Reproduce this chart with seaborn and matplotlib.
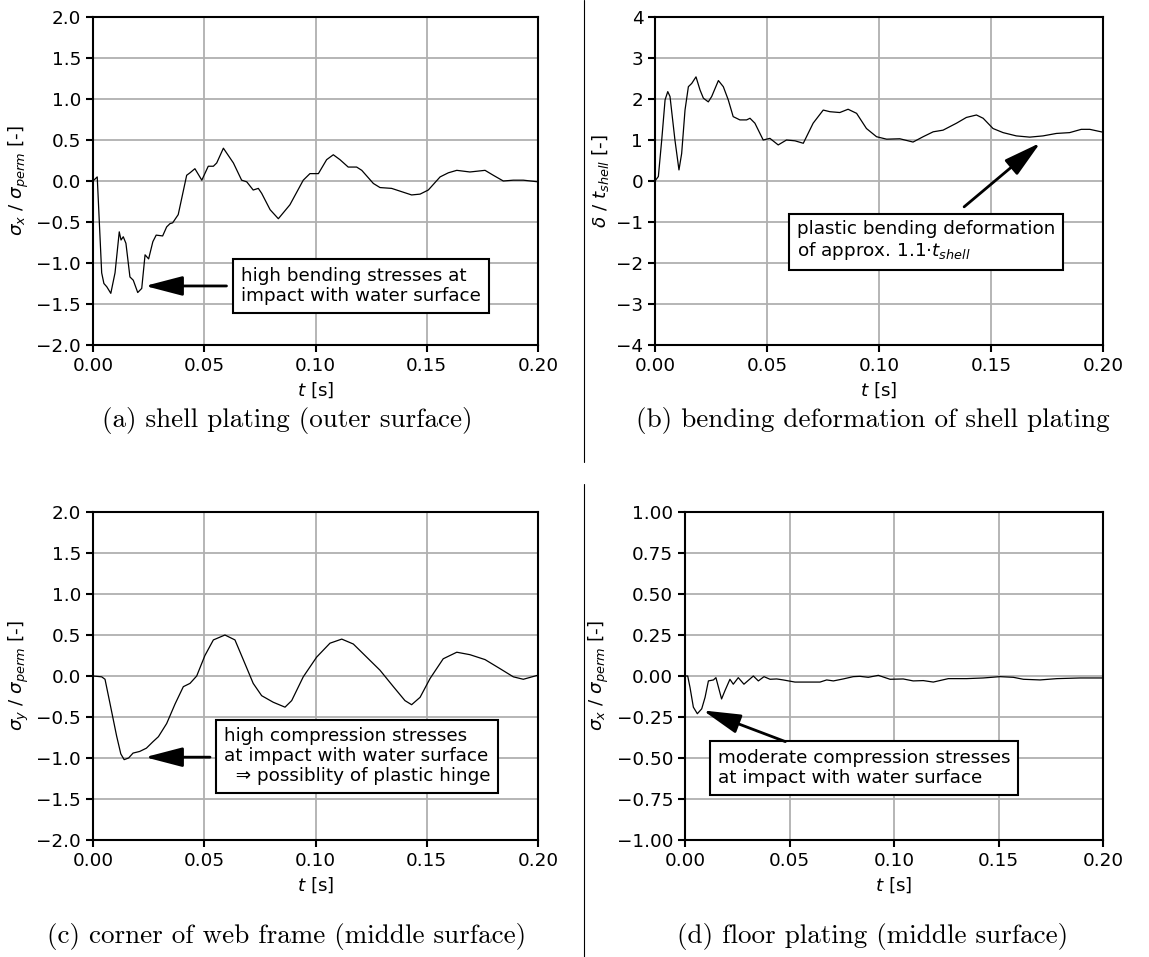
import matplotlib
matplotlib.use("Agg")
import matplotlib.pyplot as plt
from matplotlib.lines import Line2D
import pandas as pd
import seaborn as sns

# (a) shell plating, outer surface: sigma_x / sigma_perm
t_a = [0.0, 0.0019, 0.0039, 0.0049, 0.0062, 0.0080, 0.0099, 0.0118, 0.0126, 0.0136,
       0.0148, 0.0166, 0.0181, 0.0201, 0.0219, 0.0234, 0.0250, 0.0269, 0.0284, 0.0313,
       0.0331, 0.0346, 0.0358, 0.0383, 0.0421, 0.0436, 0.0458, 0.0489, 0.0518, 0.0541,
       0.0556, 0.0586, 0.0631, 0.0668, 0.0691, 0.0720, 0.0743, 0.0758, 0.0796, 0.0833,
       0.0885, 0.0945, 0.0975, 0.1013, 0.1050, 0.1080, 0.1110, 0.1147, 0.1185, 0.1208,
       0.1260, 0.1290, 0.1342, 0.1387, 0.1432, 0.1470, 0.1507, 0.1560, 0.1597, 0.1635,
       0.1694, 0.1762, 0.1799, 0.1844, 0.1889, 0.1934, 0.2000]
s_a = [0.00, 0.05, -1.12, -1.25, -1.29, -1.37, -1.12, -0.62, -0.72, -0.68,
       -0.76, -1.17, -1.21, -1.36, -1.31, -0.90, -0.95, -0.74, -0.66, -0.67,
       -0.56, -0.52, -0.51, -0.41, 0.07, 0.10, 0.15, 0.01, 0.18, 0.18,
       0.22, 0.40, 0.22, 0.01, -0.01, -0.11, -0.09, -0.15, -0.35, -0.46,
       -0.29, 0.01, 0.09, 0.09, 0.26, 0.32, 0.26, 0.17, 0.17, 0.13,
       -0.03, -0.08, -0.09, -0.13, -0.17, -0.16, -0.11, 0.05, 0.10, 0.13,
       0.11, 0.13, 0.07, 0.00, 0.01, 0.01, -0.01]

# (b) bending deformation of shell plating: delta / t_shell
t_b = [0.0, 0.0015, 0.0030, 0.0045, 0.0057, 0.0067, 0.0089, 0.0107, 0.0119, 0.0134,
       0.0149, 0.0164, 0.0183, 0.0201, 0.0216, 0.0238, 0.0253, 0.0283, 0.0305, 0.0327,
       0.0349, 0.0379, 0.0409, 0.0424, 0.0446, 0.0483, 0.0513, 0.0550, 0.0587, 0.0625,
       0.0662, 0.0706, 0.0751, 0.0781, 0.0825, 0.0862, 0.0900, 0.0944, 0.0989, 0.1034,
       0.1093, 0.1152, 0.1197, 0.1242, 0.1286, 0.1346, 0.1390, 0.1435, 0.1465, 0.1509,
       0.1554, 0.1613, 0.1673, 0.1732, 0.1792, 0.1851, 0.1903, 0.1941, 0.2000]
d_b = [0.00, 0.11, 1.00, 1.98, 2.18, 2.06, 1.00, 0.27, 0.67, 1.73,
       2.30, 2.38, 2.54, 2.22, 2.02, 1.93, 2.06, 2.45, 2.30, 1.98,
       1.57, 1.49, 1.49, 1.53, 1.41, 1.00, 1.04, 0.88, 1.00, 0.98,
       0.92, 1.41, 1.73, 1.69, 1.67, 1.75, 1.65, 1.28, 1.08, 1.02,
       1.03, 0.95, 1.08, 1.20, 1.24, 1.41, 1.55, 1.61, 1.53, 1.28,
       1.18, 1.10, 1.07, 1.10, 1.16, 1.18, 1.26, 1.26, 1.19]

# (c) corner of web frame, middle surface: sigma_y / sigma_perm
t_c = [0.0, 0.0039, 0.0054, 0.0076, 0.0106, 0.0125, 0.0140, 0.0160, 0.0180, 0.0210,
       0.0240, 0.0270, 0.0294, 0.0331, 0.0369, 0.0406, 0.0436, 0.0466, 0.0503, 0.0541,
       0.0593, 0.0638, 0.0683, 0.0720, 0.0758, 0.0810, 0.0863, 0.0893, 0.0945, 0.1005,
       0.1065, 0.1118, 0.1170, 0.1230, 0.1290, 0.1350, 0.1402, 0.1432, 0.1470, 0.1515,
       0.1574, 0.1635, 0.1694, 0.1762, 0.1829, 0.1889, 0.1934, 0.2000]
s_c = [0.00, -0.01, -0.04, -0.33, -0.73, -0.95, -1.02, -1.00, -0.94, -0.92,
       -0.88, -0.80, -0.74, -0.58, -0.34, -0.13, -0.09, 0.00, 0.25, 0.44,
       0.50, 0.44, 0.15, -0.09, -0.24, -0.32, -0.38, -0.30, -0.01, 0.23,
       0.40, 0.45, 0.39, 0.23, 0.07, -0.13, -0.30, -0.35, -0.26, -0.03,
       0.21, 0.29, 0.26, 0.20, 0.09, -0.01, -0.04, 0.01]

# (d) floor plating, middle surface: sigma_x / sigma_perm
t_d = [0.0, 0.0013, 0.0024, 0.0040, 0.0059, 0.0080, 0.0096, 0.0112, 0.0136, 0.0148,
       0.0175, 0.0191, 0.0215, 0.0231, 0.0255, 0.0282, 0.0327, 0.0351, 0.0378, 0.0407,
       0.0439, 0.0470, 0.0526, 0.0582, 0.0646, 0.0678, 0.0710, 0.0757, 0.0805, 0.0837,
       0.0877, 0.0925, 0.0981, 0.1044, 0.1092, 0.1140, 0.1188, 0.1260, 0.1348, 0.1427,
       0.1507, 0.1571, 0.1619, 0.1699, 0.1780, 0.1890, 0.2000]
s_d = [0.000, 0.000, -0.070, -0.190, -0.230, -0.200, -0.130, -0.030, -0.024, -0.010,
       -0.140, -0.090, -0.020, -0.050, -0.010, -0.050, 0.000, -0.030, -0.004, -0.020,
       -0.018, -0.024, -0.037, -0.037, -0.037, -0.024, -0.030, -0.018, -0.004, -0.002,
       -0.008, 0.004, -0.020, -0.018, -0.030, -0.028, -0.037, -0.016, -0.016, -0.012,
       -0.004, -0.008, -0.020, -0.024, -0.016, -0.012, -0.012]

captions = ["(a) shell plating (outer surface)",
            "(b) bending deformation of shell plating",
            "(c) corner of web frame (middle surface)",
            "(d) floor plating (middle surface)"]
ylabels = [r"$\sigma_x$ / $\sigma_{perm}$ [-]",
           r"$\delta$ / $t_{shell}$ [-]",
           r"$\sigma_y$ / $\sigma_{perm}$ [-]",
           r"$\sigma_x$ / $\sigma_{perm}$ [-]"]
notes = ["high bending stresses at\nimpact with water surface",
         "plastic bending deformation\nof approx. 1.1$\\cdot$$t_{shell}$",
         "high compression stresses\nat impact with water surface\n  \u21d2 possiblity of plastic hinge",
         "moderate compression stresses\nat impact with water surface"]

FS = 13.2

sns.set_theme(style="whitegrid", rc={
    "axes.edgecolor": "black",
    "axes.linewidth": 1.5,
    "grid.color": "#b0b0b0",
    "grid.linewidth": 1.3,
    "xtick.bottom": True,
    "ytick.left": True,
    "xtick.direction": "out",
    "ytick.direction": "out",
    "xtick.major.size": 5,
    "ytick.major.size": 5,
    "xtick.major.width": 1.5,
    "ytick.major.width": 1.5,
    "xtick.color": "black",
    "ytick.color": "black",
    "text.color": "black",
    "axes.labelcolor": "black",
    "font.size": FS,
    "axes.labelsize": FS,
    "xtick.labelsize": FS,
    "ytick.labelsize": FS,
})
plt.rcParams["font.family"] = ["DejaVu Sans"]

W, H = 1149, 957
fig = plt.figure(figsize=(W / 100, H / 100), dpi=100)


def frame(left, right, top, bottom):
    return [left / W, 1 - bottom / H, (right - left) / W, (bottom - top) / H]


panels = [
    dict(rect=frame(93, 538, 17, 345), t=t_a, v=s_a, ylim=(-2, 2), step=0.5, fmt="{:.1f}",
         note_xy=(0.0665, -1.28), head=(0.0234, -1.28), tail=(0.060, -1.28)),
    dict(rect=frame(655, 1103, 17, 345), t=t_b, v=d_b, ylim=(-4, 4), step=1.0, fmt="{:.0f}",
         note_xy=(0.0634, -1.46), head=(0.172, 0.93), tail=(0.138, -0.63)),
    dict(rect=frame(93, 538, 512, 840), t=t_c, v=s_c, ylim=(-2, 2), step=0.5, fmt="{:.1f}",
         note_xy=(0.0589, -0.98), head=(0.0234, -0.99), tail=(0.0526, -0.99)),
    dict(rect=frame(685, 1103, 512, 840), t=t_d, v=s_d, ylim=(-1, 1), step=0.25, fmt="{:.2f}",
         note_xy=(0.0158, -0.56), head=(0.0086, -0.21), tail=(0.048, -0.40)),
]

for i, p in enumerate(panels):
    ax = fig.add_axes(p["rect"])
    df = pd.DataFrame({"t": p["t"], "v": p["v"]})
    sns.lineplot(data=df, x="t", y="v", ax=ax, color="black", linewidth=0.9,
                 estimator=None, sort=False, zorder=3)
    ax.set_xlim(0, 0.2)
    ax.set_ylim(*p["ylim"])
    xt = [0.0, 0.05, 0.10, 0.15, 0.20]
    ax.set_xticks(xt)
    ax.set_xticklabels([f"{x:.2f}" for x in xt])
    lo, hi = p["ylim"]
    n = int(round((hi - lo) / p["step"]))
    yt = [lo + k * p["step"] for k in range(n + 1)]
    ax.set_yticks(yt)
    ax.set_yticklabels([p["fmt"].format(y).replace("-", "\u2212") for y in yt])
    ax.set_xlabel(r"$t$ [s]")
    ax.set_ylabel(ylabels[i])
    ax.set_axisbelow(True)
    for sp in ax.spines.values():
        sp.set_color("black")
        sp.set_linewidth(1.5)
    ax.text(p["note_xy"][0], p["note_xy"][1], notes[i], ha="left", va="center",
            fontsize=FS, linespacing=1.15, zorder=5,
            bbox=dict(boxstyle="square,pad=0.42", facecolor="white",
                      edgecolor="black", linewidth=1.5))
    ax.annotate("", xy=p["head"], xytext=p["tail"], zorder=5,
                arrowprops=dict(arrowstyle="-|>,head_length=1.15,head_width=0.3",
                                mutation_scale=20, lw=2, color="black",
                                shrinkA=0, shrinkB=0))

cap_pos = [(287, 420), (873, 420), (287, 937), (873, 937)]
for (cx, cy), cap in zip(cap_pos, captions):
    fig.text(cx / W, 1 - cy / H, cap, ha="center", va="center",
             family="cmr10", fontsize=19.5)

sep_x = 584 / W
fig.add_artist(Line2D([sep_x, sep_x], [1 - 462 / H, 1.0], color="black", lw=0.8))
fig.add_artist(Line2D([sep_x, sep_x], [0.0, 1 - 484 / H], color="black", lw=0.8))

fig.savefig("out.png", dpi=100)
